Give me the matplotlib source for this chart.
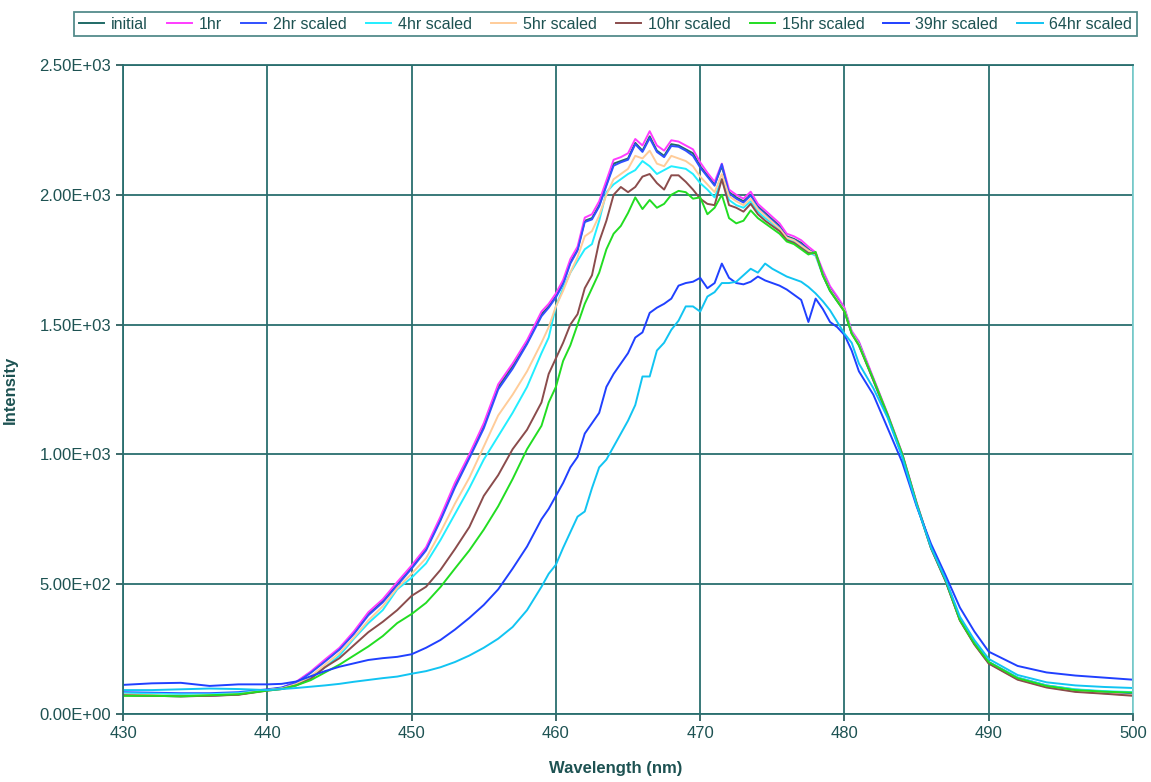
import matplotlib
matplotlib.use("Agg")
import matplotlib.pyplot as plt
from matplotlib.ticker import FuncFormatter

plt.rcParams['font.family'] = ['Liberation Sans', 'DejaVu Sans']

# longitudes de onda (nm) - muestreo mas fino cerca del pico
wl = [430, 432, 434, 436, 438, 440,
      441, 442, 443, 444, 445, 446, 447, 448, 449, 450, 451, 452, 453, 454, 455, 456, 457, 458, 459,
      459.5, 460, 460.5, 461, 461.5, 462, 462.5, 463, 463.5, 464, 464.5, 465, 465.5, 466, 466.5,
      467, 467.5, 468, 468.5, 469, 469.5, 470, 470.5, 471, 471.5, 472, 472.5, 473, 473.5, 474,
      474.5, 475, 475.5, 476, 476.5, 477, 477.5, 478, 478.5, 479, 479.5, 480, 480.5, 481,
      482, 483, 484, 485, 486, 487, 488, 489, 490,
      492, 494, 496, 498, 500]

initial = [72, 70, 68, 70, 75, 92,
           100, 122, 160, 205, 250, 312, 385, 435, 500, 565, 635, 750, 880, 990, 1110, 1260, 1340, 1430, 1540,
           1570, 1610, 1660, 1740, 1790, 1900, 1910, 1960, 2040, 2120, 2130, 2140, 2200, 2170, 2225,
           2170, 2150, 2195, 2190, 2175, 2160, 2110, 2075, 2040, 2110, 2010, 1990, 1975, 2000, 1955,
           1930, 1905, 1880, 1840, 1830, 1815, 1790, 1770, 1700, 1640, 1600, 1560, 1470, 1430,
           1290, 1150, 1000, 810, 640, 515, 362, 270, 196,
           135, 105, 88, 80, 73]

hr1 = [74, 71, 69, 71, 76, 93,
       101, 124, 163, 210, 255, 318, 392, 442, 508, 572, 642, 760, 890, 1000, 1120, 1270, 1350, 1440, 1550,
       1580, 1620, 1672, 1752, 1800, 1912, 1925, 1975, 2055, 2135, 2145, 2160, 2215, 2190, 2245,
       2190, 2170, 2210, 2205, 2190, 2175, 2125, 2085, 2050, 2120, 2020, 2000, 1985, 2012, 1965,
       1940, 1915, 1890, 1850, 1840, 1825, 1800, 1778, 1708, 1648, 1608, 1565, 1476, 1435,
       1295, 1155, 1005, 815, 642, 518, 365, 272, 198,
       136, 106, 89, 81, 74]

hr2 = [84, 82, 80, 80, 84, 95,
       102, 120, 158, 202, 248, 308, 380, 430, 495, 560, 630, 745, 872, 985, 1100, 1250, 1330, 1425, 1532,
       1565, 1605, 1655, 1735, 1785, 1895, 1905, 1955, 2035, 2112, 2125, 2135, 2195, 2165, 2218,
       2165, 2145, 2188, 2185, 2170, 2150, 2105, 2070, 2035, 2118, 2005, 1985, 1970, 1998, 1950,
       1925, 1900, 1875, 1836, 1826, 1810, 1786, 1772, 1698, 1638, 1598, 1556, 1468, 1428,
       1288, 1148, 998, 808, 640, 516, 365, 275, 200,
       140, 110, 94, 86, 80]

hr4 = [80, 78, 76, 76, 80, 92,
       98, 112, 140, 180, 225, 290, 350, 400, 480, 525, 580, 670, 770, 870, 980, 1070, 1160, 1260, 1390,
       1450, 1570, 1640, 1700, 1745, 1790, 1810, 1900, 2010, 2040, 2060, 2080, 2095, 2130, 2110,
       2080, 2095, 2110, 2105, 2100, 2080, 2045, 2020, 1990, 2060, 1980, 1960, 1950, 1975, 1935,
       1910, 1890, 1865, 1830, 1820, 1800, 1780, 1765, 1690, 1630, 1590, 1555, 1470, 1425,
       1285, 1145, 995, 805, 638, 514, 363, 273, 200,
       140, 110, 95, 88, 84]

hr5 = [75, 72, 70, 72, 76, 92,
       98, 115, 145, 190, 235, 295, 360, 415, 485, 540, 600, 700, 810, 910, 1030, 1150, 1230, 1320, 1430,
       1490, 1570, 1630, 1700, 1760, 1840, 1860, 1920, 2000, 2060, 2080, 2100, 2150, 2140, 2170,
       2120, 2110, 2150, 2140, 2130, 2110, 2070, 2040, 2010, 2080, 1995, 1975, 1960, 1985, 1945,
       1920, 1895, 1870, 1835, 1825, 1805, 1785, 1770, 1695, 1635, 1595, 1555, 1468, 1425,
       1288, 1150, 1000, 810, 640, 515, 362, 270, 196,
       134, 104, 87, 79, 72]

hr10 = [72, 70, 68, 70, 74, 90,
        96, 110, 135, 180, 215, 265, 315, 355, 400, 455, 490, 555, 635, 720, 840, 920, 1020, 1095, 1200,
        1310, 1370, 1430, 1500, 1540, 1640, 1690, 1820, 1900, 2000, 2030, 2010, 2030, 2070, 2080,
        2045, 2020, 2075, 2075, 2050, 2020, 1985, 1965, 1960, 2060, 1960, 1950, 1935, 1965, 1925,
        1900, 1880, 1860, 1825, 1815, 1795, 1775, 1775, 1690, 1630, 1590, 1550, 1465, 1420,
        1285, 1148, 998, 808, 638, 512, 360, 268, 194,
        132, 102, 85, 78, 70]

hr15 = [70, 70, 68, 72, 76, 90,
        96, 110, 130, 160, 190, 225, 260, 300, 350, 385, 428, 489, 560, 630, 710, 800, 905, 1020, 1110,
        1200, 1260, 1360, 1420, 1500, 1580, 1640, 1700, 1790, 1850, 1880, 1930, 1990, 1945, 1980,
        1950, 1965, 2000, 2015, 2010, 1985, 1990, 1925, 1950, 2000, 1910, 1890, 1900, 1940, 1910,
        1890, 1870, 1850, 1820, 1810, 1790, 1770, 1780, 1690, 1630, 1590, 1550, 1465, 1420,
        1290, 1152, 1002, 812, 642, 516, 362, 272, 200,
        138, 108, 92, 86, 82]

hr39 = [112, 118, 120, 108, 114, 114,
        116, 125, 145, 165, 182, 195, 208, 215, 220, 230, 255, 285, 325, 370, 420, 480, 560, 645, 750,
        790, 840, 890, 950, 990, 1080, 1120, 1160, 1260, 1310, 1350, 1390, 1450, 1470, 1545,
        1565, 1580, 1600, 1650, 1660, 1665, 1680, 1640, 1660, 1735, 1680, 1660, 1655, 1665, 1685,
        1670, 1660, 1650, 1635, 1615, 1595, 1510, 1600, 1560, 1510, 1490, 1460, 1400, 1320,
        1230, 1100, 970, 800, 655, 535, 410, 318, 240,
        185, 160, 148, 140, 132]

hr64 = [92, 92, 95, 98, 96, 92,
        96, 100, 105, 110, 116, 124, 131, 138, 144, 155, 165, 180, 200, 225, 255, 290, 335, 400, 490,
        540, 575, 640, 700, 760, 780, 870, 950, 980, 1030, 1080, 1130, 1190, 1300, 1300,
        1400, 1430, 1480, 1515, 1570, 1570, 1550, 1608, 1625, 1660, 1660, 1665, 1690, 1715, 1700,
        1735, 1715, 1700, 1685, 1675, 1665, 1645, 1620, 1590, 1555, 1510, 1465, 1430, 1350,
        1255, 1140, 990, 805, 642, 520, 375, 285, 212,
        150, 122, 110, 104, 100]

series = [initial, hr1, hr2, hr4, hr5, hr10, hr15, hr39, hr64]
nombres = ['initial', '1hr', '2hr scaled', '4hr scaled', '5hr scaled',
           '10hr scaled', '15hr scaled', '39hr scaled', '64hr scaled']
colores = ['#1f6a66', '#ff3cff', '#3050ff', '#22eeff', '#ffcc99',
           '#8b4c4c', '#22dd22', '#2040ff', '#11c4f2']

texto = '#1d5252'
rejilla = '#2a6e6e'

fig = plt.figure(figsize=(11.51, 7.82), dpi=100)
ax = fig.add_axes([0.1069, 0.0870, 0.8775, 0.8299])

for y, n, c in zip(series, nombres, colores):
    ax.plot(wl, y, color=c, linewidth=1.4, label=n)

ax.set_xlim(430, 500)
ax.set_ylim(0, 2500)
ax.set_xticks(range(430, 501, 10))
ax.set_yticks(range(0, 2501, 500))
ax.yaxis.set_major_formatter(FuncFormatter(lambda v, p: '%.2E' % v))
ax.grid(True, color=rejilla, linewidth=1.3)
ax.set_axisbelow(True)
ax.tick_params(colors=texto, labelsize=12, length=5, width=1.2, direction='out')
for lado in ['left', 'bottom', 'top']:
    ax.spines[lado].set_color(rejilla)
    ax.spines[lado].set_linewidth(1.3)
ax.spines['right'].set_color('#7fd0d0')
ax.spines['right'].set_linewidth(1.3)

ax.set_xlabel('Wavelength (nm)', fontsize=12, fontweight='bold', color=texto)
ax.set_ylabel('Intensity', fontsize=12, fontweight='bold', color=texto)
ax.xaxis.set_label_coords(0.488, -0.072)
ax.yaxis.set_label_coords(-0.104, 0.5)

leg = fig.legend(loc='upper center', bbox_to_anchor=(0.526, 0.995), ncol=9,
                 fontsize=11.5, frameon=True, fancybox=False, handlelength=1.6,
                 handletextpad=0.4, columnspacing=1.2, borderpad=0.3)
leg.get_frame().set_edgecolor(rejilla)
leg.get_frame().set_linewidth(1.3)
for t in leg.get_texts():
    t.set_color(texto)

fig.savefig('out.png', dpi=100)
